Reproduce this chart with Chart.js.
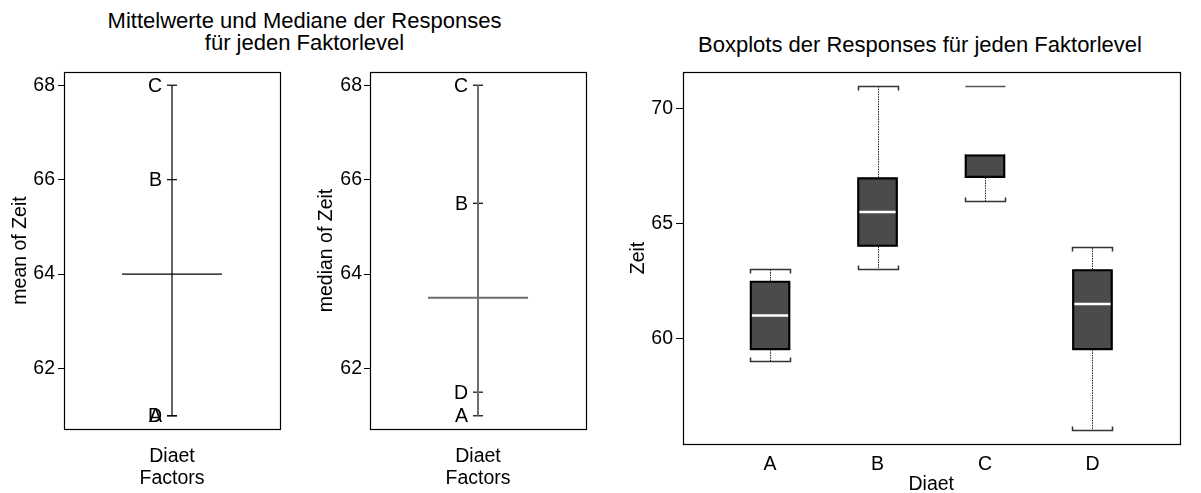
<!DOCTYPE html>
<html lang="de">
<head>
    <meta charset="UTF-8">
    <title>Diaet und Zeit</title>
    <script src="https://cdn.jsdelivr.net/npm/chart.js@4.4.1/dist/chart.umd.min.js"></script>
    <style>
        body {
            margin: 0;
            background: #fff;
            font-family: "Liberation Sans", Arial, sans-serif;
        }
        #wrap {
            position: relative;
            width: 1201px;
            height: 493px;
            overflow: hidden;
        }
        canvas {
            position: absolute;
            top: 0;
        }
        .titel {
            position: absolute;
            text-align: center;
            font-size: 22px;
            line-height: 22px;
            color: #000;
        }
        #titelLinks {
            left: 0;
            top: 10px;
            width: 609px;
        }
        #titelRechts {
            left: 620px;
            top: 34px;
            width: 600px;
        }
    </style>
</head>
<body>
<div id="wrap">
    <div class="titel" id="titelLinks">Mittelwerte und Mediane der Responses<br>für jeden Faktorlevel</div>
    <div class="titel" id="titelRechts">Boxplots der Responses für jeden Faktorlevel</div>
    <canvas id="mittel" width="300" height="493" style="left:0"></canvas>
    <canvas id="median" width="300" height="493" style="left:300px"></canvas>
    <canvas id="boxplot" width="601" height="510" style="left:600px"></canvas>
</div>

<script>
    // Faktor "Diaet" mit vier Stufen
    const faktorLevel = ['A', 'B', 'C', 'D'];

    // Mittelwerte / Mediane der Zeit je Stufe und insgesamt
    const mittelwerte = [61, 66, 68, 61];
    const mediane = [61, 65.5, 68, 61.5];
    const gesamtMittel = 64;
    const gesamtMedian = 63.5;
    const designTicks = [62, 64, 66, 68];

    // Kennzahlen fuer die Boxplots
    const whiskerUnten = [59, 63, 66, 56];
    const quartil1 = [59.5, 64, 67, 59.5];
    const medianBox = [61, 65.5, 68, 61.5];
    const quartil3 = [62.5, 67, 68, 63];
    const whiskerOben = [63, 71, 68, 64];
    const ausreisser = [[], [], [71], []];
    const boxTicks = [60, 65, 70];

    const schrift = '"Liberation Sans", Arial, sans-serif';
    Chart.defaults.font.family = schrift;
    Chart.defaults.color = '#000';

    // Rahmen um die Plotflaeche
    const rahmen = {
        id: 'rahmen',
        afterDraw(chart) {
            const a = chart.chartArea;
            const ctx = chart.ctx;
            ctx.save();
            ctx.strokeStyle = '#000';
            ctx.lineWidth = 1.2;
            ctx.strokeRect(Math.round(a.left) + 0.5, Math.round(a.top) + 0.5,
                Math.round(a.right - a.left), Math.round(a.bottom - a.top));
            ctx.restore();
        }
    };

    // Buchstaben links neben den Stufen-Markierungen
    const levelBeschriftung = {
        id: 'levelBeschriftung',
        afterDatasetsDraw(chart) {
            const meta = chart.getDatasetMeta(2);
            const ctx = chart.ctx;
            ctx.save();
            ctx.font = '19.5px ' + schrift;
            ctx.fillStyle = '#000';
            ctx.textAlign = 'right';
            ctx.textBaseline = 'middle';
            meta.data.forEach((pt, i) => ctx.fillText(faktorLevel[i], pt.x - 10, pt.y + 1));
            ctx.restore();
        }
    };

    function designChart(id, werte, gesamt, yTitel, achsenBreite, rechts, linienFarbe, linienBreite, titelAbstand, tickAbstand) {
        return new Chart(document.getElementById(id), {
            type: 'scatter',
            data: {
                datasets: [
                    {
                        // senkrechte Linie von der kleinsten zur groessten Stufe
                        data: [{x: 1, y: Math.min(...werte)}, {x: 1, y: Math.max(...werte)}],
                        showLine: true,
                        borderColor: linienFarbe,
                        borderWidth: linienBreite,
                        pointRadius: 0
                    },
                    {
                        // Gesamtwert als waagrechte Linie
                        data: [{x: 0.7685, y: gesamt}, {x: 1.2315, y: gesamt}],
                        showLine: true,
                        borderColor: linienFarbe,
                        borderWidth: linienBreite,
                        pointRadius: 0
                    },
                    {
                        data: werte.map(v => ({x: 1, y: v})),
                        pointStyle: 'line',
                        pointRadius: 5,
                        pointBorderColor: '#000',
                        pointBorderWidth: 1.2
                    }
                ]
            },
            options: {
                responsive: false,
                animation: false,
                events: [],
                layout: {padding: {top: 72, right: rechts, left: 0, bottom: 0}},
                plugins: {legend: {display: false}, tooltip: {enabled: false}},
                scales: {
                    x: {
                        type: 'linear',
                        min: 0.5,
                        max: 1.5,
                        afterFit(s) { s.height = 64; },
                        grid: {display: false},
                        border: {display: false},
                        ticks: {display: false},
                        title: {
                            display: true,
                            text: ['Diaet', 'Factors'],
                            font: {size: 19.5, lineHeight: 1.1},
                            padding: {top: 0, bottom: 4}
                        }
                    },
                    y: {
                        min: 60.72,
                        max: 68.28,
                        afterFit(s) { s.width = achsenBreite; },
                        afterBuildTicks(s) { s.ticks = designTicks.map(v => ({value: v})); },
                        grid: {drawOnChartArea: false, tickLength: 6, tickColor: '#000', tickWidth: 1},
                        border: {display: true, color: '#000'},
                        ticks: {padding: tickAbstand, font: {size: 19.5}},
                        title: {
                            display: true,
                            text: yTitel,
                            font: {size: 19.5},
                            padding: {top: titelAbstand, bottom: 0}
                        }
                    }
                }
            },
            plugins: [rahmen, levelBeschriftung]
        });
    }

    designChart('mittel', mittelwerte, gesamtMittel, 'mean of Zeit', 64, 20, '#000', 1.2, 9, 3);
    designChart('median', mediane, gesamtMedian, 'median of Zeit', 70, 14, '#6e6e6e', 2, 15, 2);

    // Whisker mit Endhaken und Ausreisser als waagrechte Striche
    const whisker = {
        id: 'whisker',
        beforeDatasetsDraw(chart) {
            const {ctx, scales: {x, y}} = chart;
            const halb = 20;
            ctx.save();
            faktorLevel.forEach((_, i) => {
                const px = Math.round(x.getPixelForValue(i + 1)) + 0.5;
                const teile = [[quartil3[i], whiskerOben[i], 1], [quartil1[i], whiskerUnten[i], -1]];
                teile.forEach(([von, bis, richtung]) => {
                    if (von === bis) return;
                    const y0 = y.getPixelForValue(von);
                    const y1 = Math.round(y.getPixelForValue(bis)) + 0.5;
                    ctx.strokeStyle = '#222';
                    ctx.lineWidth = 1;
                    ctx.setLineDash([1.5, 1]);
                    ctx.beginPath();
                    ctx.moveTo(px, y0);
                    ctx.lineTo(px, y1);
                    ctx.stroke();
                    ctx.setLineDash([]);
                    ctx.strokeStyle = '#333';
                    ctx.lineWidth = 1.5;
                    const d = richtung * 4;
                    ctx.beginPath();
                    ctx.moveTo(px - halb, y1 + d);
                    ctx.lineTo(px - halb, y1);
                    ctx.lineTo(px + halb, y1);
                    ctx.lineTo(px + halb, y1 + d);
                    ctx.stroke();
                });
                ausreisser[i].forEach(v => {
                    const py = Math.round(y.getPixelForValue(v)) + 0.5;
                    ctx.strokeStyle = '#555';
                    ctx.lineWidth = 1.5;
                    ctx.beginPath();
                    ctx.moveTo(px - halb, py);
                    ctx.lineTo(px + halb, py);
                    ctx.stroke();
                });
            });
            ctx.restore();
        }
    };

    const boxDaten = faktorLevel.map((_, i) => ({x: i + 1, y: [quartil1[i], quartil3[i]]}));

    new Chart(document.getElementById('boxplot'), {
        type: 'bar',
        data: {
            datasets: [
                {
                    // Umriss der Boxen zuletzt, damit er ueber dem Median liegt
                    type: 'bar',
                    order: -1,
                    data: boxDaten,
                    backgroundColor: 'rgba(0,0,0,0)',
                    borderColor: '#000',
                    borderWidth: 1.5,
                    borderSkipped: false,
                    barThickness: 40,
                    grouped: false
                },
                {
                    type: 'scatter',
                    order: 0,
                    data: faktorLevel.map((_, i) => ({x: i + 1, y: medianBox[i]})),
                    pointStyle: 'line',
                    pointRadius: 19,
                    pointBorderColor: '#fff',
                    pointBorderWidth: 2.5
                },
                {
                    type: 'bar',
                    order: 1,
                    data: boxDaten,
                    backgroundColor: '#4b4b4b',
                    borderWidth: 0,
                    barThickness: 40,
                    grouped: false
                }
            ]
        },
        options: {
            responsive: false,
            animation: false,
            events: [],
            layout: {padding: {top: 72, right: 3, left: 0, bottom: 0}},
            plugins: {legend: {display: false}, tooltip: {enabled: false}},
            scales: {
                x: {
                    type: 'linear',
                    offset: false,
                    min: 0.19,
                    max: 4.81,
                    afterFit(s) { s.height = 66; },
                    afterBuildTicks(s) { s.ticks = faktorLevel.map((_, i) => ({value: i + 1})); },
                    grid: {drawOnChartArea: false, drawTicks: false, offset: false},
                    border: {display: false},
                    ticks: {
                        padding: 8.5,
                        font: {size: 19.5},
                        callback: v => faktorLevel[v - 1]
                    },
                    title: {
                        display: true,
                        text: 'Diaet',
                        font: {size: 19.5},
                        padding: {top: 0, bottom: 13.5}
                    }
                },
                y: {
                    min: 55.4,
                    max: 71.6,
                    afterFit(s) { s.width = 83; },
                    afterBuildTicks(s) { s.ticks = boxTicks.map(v => ({value: v})); },
                    grid: {drawOnChartArea: false, tickLength: 7, tickColor: '#000', tickWidth: 1},
                    border: {display: true, color: '#000'},
                    ticks: {padding: 3, font: {size: 19.5}},
                    title: {
                        display: true,
                        text: 'Zeit',
                        font: {size: 19.5},
                        padding: {top: 27, bottom: 0}
                    }
                }
            }
        },
        plugins: [rahmen, whisker]
    });
</script>
</body>
</html>
